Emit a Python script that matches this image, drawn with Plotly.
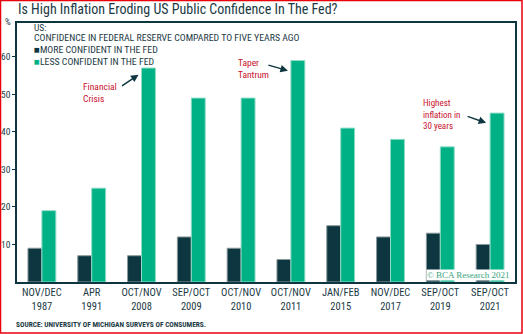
import plotly.graph_objects as go

periods = ["NOV/DEC<br>1987", "APR<br>1991", "OCT/NOV<br>2008", "SEP/OCT<br>2009", "OCT/NOV<br>2010",
           "OCT/NOV<br>2011", "JAN/FEB<br>2015", "NOV/DEC<br>2017", "SEP/OCT<br>2019", "SEP/OCT<br>2021"]
more_confident = [9, 7, 7, 12, 9, 6, 15, 12, 13, 10]
less_confident = [19, 25, 57, 49, 49, 59, 41, 38, 36, 45]
series_names = ["MORE CONFIDENT IN THE FED", "LESS CONFIDENT IN THE FED"]
y_ticks = [10, 20, 30, 40, 50, 60]

DARK = "#0e3640"
GREEN = "#00b186"
TXT = "#1c3a44"
RED = "#c8102e"
FONT = "Roboto Condensed, Roboto, sans-serif"

W, H = 523, 334
L, R, T, B = 17, 8, 23, 52
PW, PH = W - L - R, H - T - B

fig = go.Figure()
fig.add_trace(go.Bar(x=list(range(len(periods))), y=more_confident, name=series_names[0],
                     marker=dict(color=DARK, line=dict(color="#8a9a9c", width=1))))
fig.add_trace(go.Bar(x=list(range(len(periods))), y=less_confident, name=series_names[1],
                     marker=dict(color=GREEN, line=dict(color="#8fdcc6", width=1))))

def px_x(px):
    return (px - L) / PW

def px_y(py):
    return (H - B - py) / PH

def txt(text, x, y, size=9, color=TXT, family=FONT, anchor="left", **kw):
    return dict(text=text, x=px_x(x), y=px_y(y), xref="paper", yref="paper", xanchor=anchor,
                yanchor="middle", showarrow=False, align="left",
                font=dict(family=family, size=size, color=color), **kw)

ann = []
ann.append(txt("Is High Inflation Eroding US Public Confidence In The Fed?", 16, 9, size=14))
ann.append(txt("%", 3, 22, size=9))
ann.append(txt("US:", 32, 28, size=9.5))
ann.append(txt("CONFIDENCE IN FEDERAL RESERVE COMPARED TO FIVE YEARS AGO", 32, 37, size=9.8))
for i, (nm, col) in enumerate(zip(series_names, [DARK, GREEN])):
    ann.append(txt(f'<span style="color:{col}">■</span>{nm}', 32, 49 + 12 * i, size=9.8))

# event annotations (red text)
events = [
    ("Financial<br>Crisis", 82, 92.5, 9.5),
    ("Taper<br>Tantrum", 237, 68.5, 9.5),
    ("Highest<br>inflation in<br>30 years", 422, 115, 9),
]
for label, x0, yc, sz in events:
    ann.append(txt(label, x0, yc, size=sz, color=RED, borderpad=0))

# arrows (head at data position, tail offset in px)
ann.append(dict(text="", x=1.94, y=55.2, ax=-18, ay=12, showarrow=True, arrowhead=2,
                arrowsize=1, arrowwidth=1.5, arrowcolor=DARK))
ann.append(dict(text="", x=4.94, y=56.3, ax=-21, ay=-6, showarrow=True, arrowhead=2,
                arrowsize=1, arrowwidth=1.5, arrowcolor=DARK))
ann.append(dict(text="", x=8.92, y=42.4, ax=-20, ay=-7, showarrow=True, arrowhead=2,
                arrowsize=1, arrowwidth=1.5, arrowcolor=DARK))

ann.append(txt("© BCA Research 2021", 511, 275, size=9, color="#3aa57e",
               family="Liberation Serif, serif", anchor="right", bgcolor="white", borderpad=0))
ann.append(txt("<b>SOURCE: UNIVERSITY OF MICHIGAN SURVEYS OF CONSUMERS.</b>", 14, 324, size=7.4))

shapes = [dict(type="rect", xref="paper", yref="paper", x0=px_x(0.5), x1=px_x(522), y0=px_y(0.5), y1=px_y(333),
               line=dict(color="#e8000b", width=1.5), layer="above")]

fig.update_layout(
    template="none",
    width=W, height=H, margin=dict(l=L, r=R, t=T, b=B, pad=0),
    paper_bgcolor="white", plot_bgcolor="white",
    barmode="group", bargap=0.44, bargroupgap=0,
    showlegend=False, annotations=ann, shapes=shapes,
    font=dict(family=FONT, color=TXT),
    xaxis=dict(range=[-0.5, 9.5], tickvals=list(range(len(periods))), ticktext=periods, automargin=False,
               showline=True, mirror=True, linecolor=DARK, linewidth=1.5, ticks="",
               showgrid=False, zeroline=False, tickfont=dict(family=FONT, size=10.5, color=TXT)),
    yaxis=dict(range=[0, 69], tickvals=y_ticks, showline=True, mirror=True, linecolor=DARK, linewidth=1.5,
               ticks="outside", ticklen=3, tickcolor=DARK, showgrid=False, zeroline=False, automargin=False,
               tickfont=dict(family=FONT, size=9.5, color=TXT)),
)

fig.write_html("out.html")
